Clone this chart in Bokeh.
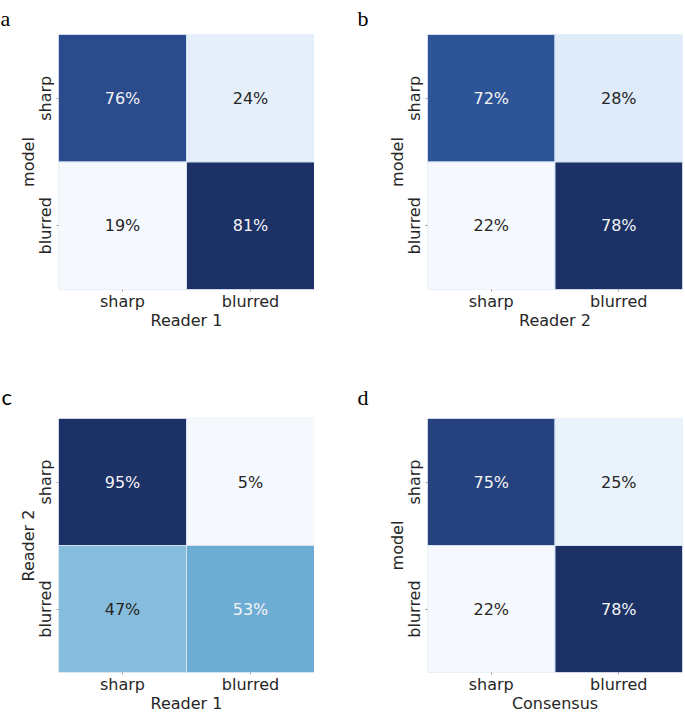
import numpy as np
from bokeh.plotting import figure
from bokeh.models import ColumnDataSource, LinearColorMapper
from bokeh.layouts import column, row
from bokeh.embed import file_html
from bokeh.resources import INLINE
from bokeh.core.properties import value

# ---- data ----
categories = ["sharp", "blurred"]
vals_a = [[76, 24], [19, 81]]
vals_b = [[72, 28], [22, 78]]
vals_c = [[95, 5], [47, 53]]
vals_d = [[75, 25], [22, 78]]
xlabels = ["Reader 1", "Reader 2", "Reader 1", "Consensus"]
ylabels = ["model", "model", "Reader 2", "model"]
letters = ["a", "b", "c", "d"]

# ---- colour map (Blues-like, as seen in the picture) ----
anchors = [(0.0, "#f5f9fe"), (0.1, "#e0ecf8"), (0.25, "#c6dbef"), (0.38, "#a0cae1"),
           (0.47, "#86bddc"), (0.53, "#6eaed4"), (0.65, "#4a90c5"), (0.78, "#3a6cb0"),
           (0.89, "#2d5598"), (0.92, "#2a4b8d"), (1.0, "#1c3267")]


def hex2rgb(h):
    return [int(h[i:i + 2], 16) for i in (1, 3, 5)]


ts = np.array([a[0] for a in anchors])
rgbs = np.array([hex2rgb(a[1]) for a in anchors], dtype=float)
grid = np.linspace(0, 1, 256)
palette = []
for g in grid:
    c = [np.interp(g, ts, rgbs[:, k]) for k in range(3)]
    palette.append("#%02x%02x%02x" % tuple(int(round(v)) for v in c))

FONT = "DejaVu Sans"


def make_panel(vals, xlabel, ylabel, letter, letter_font, width, height,
               left, right, top, bottom, l_off, l_standoff):
    flat = [v for r in vals for v in r]
    lo, hi = min(flat), max(flat)
    mapper = LinearColorMapper(palette=palette, low=lo, high=hi)
    xs, ys, vs, txt, tc = [], [], [], [], []
    for i, rcat in enumerate(categories):
        for j, ccat in enumerate(categories):
            v = vals[i][j]
            xs.append(ccat)
            ys.append(rcat)
            vs.append(v)
            txt.append("%d%%" % v)
            t = (v - lo) / (hi - lo)
            tc.append("#f4f4f4" if t > 0.5 else "#262626")
    src = ColumnDataSource(dict(x=xs, y=ys, val=vs, txt=txt, tc=tc))

    p = figure(width=width, height=height, x_range=categories,
               y_range=categories[::-1], output_backend="svg",
               toolbar_location=None, min_border_left=left,
               min_border_right=right, min_border_top=top,
               min_border_bottom=bottom, title=letter)
    p.title.text_font = letter_font
    p.title.text_font_size = "22px"
    p.title.text_font_style = "normal"
    p.title.text_color = "black"
    p.title.align = "left"
    p.title.offset = l_off
    p.title.standoff = l_standoff

    p.rect(x="x", y="y", width=1, height=1, source=src,
           fill_color={"field": "val", "transform": mapper},
           line_color="#d3e1f1", line_width=1)
    p.text(x="x", y="y", text="txt", text_color="tc", source=src,
           text_align="center", text_baseline="middle",
           text_font=value(FONT), text_font_size="16px")

    p.grid.visible = False
    p.outline_line_color = None
    for ax in (p.xaxis, p.yaxis):
        ax.axis_line_color = None
        ax.major_tick_out = 2
        ax.major_tick_in = 0
        ax.major_tick_line_color = "#999999"
        ax.minor_tick_line_color = None
        ax.major_label_text_font = FONT
        ax.major_label_text_font_size = "16px"
        ax.major_label_text_color = "#262626"
        ax.axis_label_text_font = FONT
        ax.axis_label_text_font_size = "16px"
        ax.axis_label_text_font_style = "normal"
        ax.axis_label_text_color = "#262626"
    p.xaxis.major_label_standoff = 0
    p.xaxis.axis_label_standoff = -3
    p.yaxis.major_label_standoff = 2
    p.yaxis.axis_label_standoff = -5
    p.xaxis.axis_label = xlabel
    p.yaxis.axis_label = ylabel
    p.yaxis.major_label_orientation = "vertical"
    return p


pa = make_panel(vals_a, xlabels[0], ylabels[0], letters[0], "Liberation Serif",
                314, 360, 58, 0, 32, 71, -58, 7)
pb = make_panel(vals_b, xlabels[1], ylabels[1], letters[1], "Liberation Serif",
                370, 360, 113, 2, 32, 71, -70, 7)
pc = make_panel(vals_c, xlabels[2], ylabels[2], letters[2], "Lato",
                314, 355, 58, 0, 58, 42, -57, 17)
pd_ = make_panel(vals_d, xlabels[3], ylabels[3], letters[3], "Liberation Serif",
                 370, 355, 113, 2, 58, 42, -70, 17)

layout = column(row(pa, pb), row(pc, pd_))
open("out.html", "w").write(file_html(layout, INLINE))
